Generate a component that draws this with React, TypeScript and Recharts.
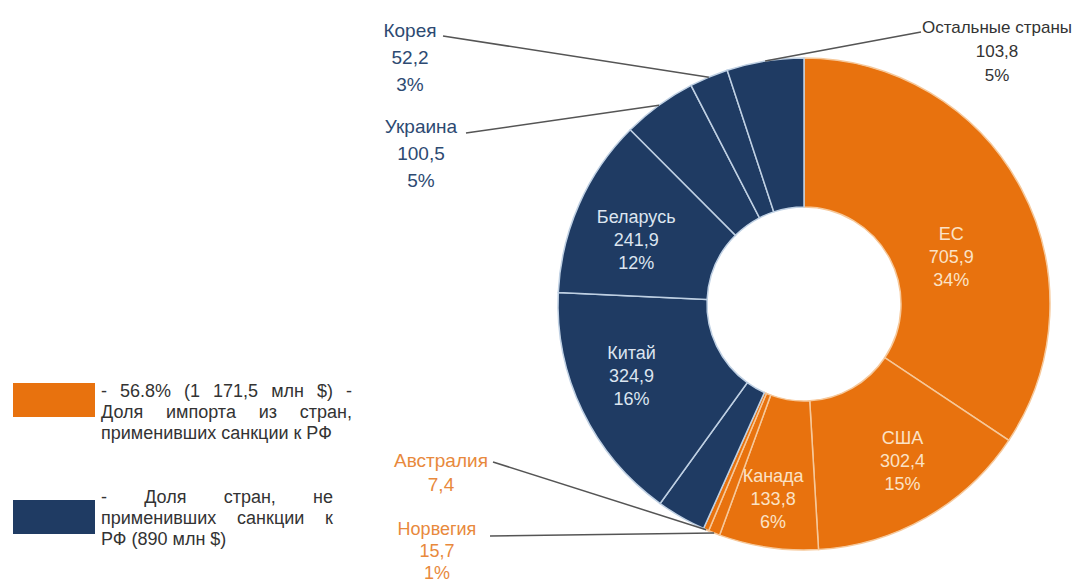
import React from 'react';
import { PieChart, Pie, Cell } from 'recharts';

// ---- data ----
const countries = ['ЕС', 'США', 'Канада', 'Норвегия', 'Австралия', 'Прочие', 'Китай', 'Беларусь', 'Украина', 'Корея', 'Остальные страны'];
const importValues = [705.9, 302.4, 133.8, 15.7, 7.4, 66.7, 324.9, 241.9, 100.5, 52.2, 103.8];
const valueTexts = ['705,9', '302,4', '133,8', '15,7', '7,4', '', '324,9', '241,9', '100,5', '52,2', '103,8'];
const shareTexts = ['34%', '15%', '6%', '1%', '', '', '16%', '12%', '5%', '3%', '5%'];
const sanctioned = [true, true, true, true, true, false, false, false, false, false, false];
const legendLines1 = ['- 56.8% (1 171,5 млн $) -', 'Доля импорта из стран,', 'применивших санкции к РФ'];
const legendLines2 = ['- Доля стран, не', 'применивших санкции к', 'РФ (890 млн $)'];

const ORANGE = '#E8720E';
const NAVY = '#1F3B63';
const FONT = '"Liberation Sans", Arial, sans-serif';

const data = countries.map((name, i) => ({
  name,
  value: importValues[i],
  valueText: valueTexts[i],
  share: shareTexts[i],
  sanctioned: sanctioned[i],
}));

// label layout (style only)
type Inside = { kind: 'in'; dx: number; dy: number };
type Outside = { kind: 'out'; tx: number; ty: number; lx: number; ly: number; color: string; step: number; size: number };
const layout: Record<string, Inside | Outside | undefined> = {
  'ЕС': { kind: 'in', dx: -4, dy: 34 },
  'США': { kind: 'in', dx: 13, dy: 8 },
  'Канада': { kind: 'in', dx: -6, dy: 25 },
  'Китай': { kind: 'in', dx: -18, dy: -3 },
  'Беларусь': { kind: 'in', dx: -11, dy: 5 },
  'Корея': { kind: 'out', tx: 410, ty: 30, lx: 443, ly: 36, color: '#2D4A72', step: 27, size: 19 },
  'Украина': { kind: 'out', tx: 421, ty: 126, lx: 466, ly: 133, color: '#2D4A72', step: 27, size: 19 },
  'Остальные страны': { kind: 'out', tx: 997, ty: 27, lx: 921, ly: 32, color: '#333333', step: 24, size: 17 },
  'Австралия': { kind: 'out', tx: 441, ty: 460, lx: 493, ly: 462, color: '#E8893C', step: 24, size: 19 },
  'Норвегия': { kind: 'out', tx: 437, ty: 529, lx: 490, ly: 536, color: '#E8893C', step: 22, size: 18 },
};

const RAD = Math.PI / 180;

const renderLabel = (props: any) => {
  const { cx, cy, midAngle, innerRadius, outerRadius, index } = props;
  const d = data[index];
  const cfg = layout[d.name];
  if (!cfg) return null;
  const lines = [d.name, d.valueText, d.share].filter((s) => s !== '');
  if (cfg.kind === 'in') {
    const r = (innerRadius + outerRadius) / 2;
    const x = cx + r * Math.cos(-midAngle * RAD) + cfg.dx;
    const y = cy + r * Math.sin(-midAngle * RAD) + cfg.dy;
    const fill = d.sanctioned ? '#FBE2C6' : '#DCE5F0';
    const step = 23;
    return (
      <g key={`l-${index}`}>
        {lines.map((t, k) => (
          <text key={k} x={x} y={y + (k - 1) * step} textAnchor="middle" dominantBaseline="central"
            fill={fill} fontSize={18} fontFamily={FONT}>{t}</text>
        ))}
      </g>
    );
  }
  const ex = cx + outerRadius * Math.cos(-midAngle * RAD);
  const ey = cy + outerRadius * Math.sin(-midAngle * RAD);
  return (
    <g key={`l-${index}`}>
      <polyline points={`${cfg.lx},${cfg.ly} ${ex},${ey}`} stroke="#555" strokeWidth={1.5} fill="none" />
      {lines.map((t, k) => (
        <text key={k} x={cfg.tx} y={cfg.ty + k * cfg.step} textAnchor="middle" dominantBaseline="central"
          fill={cfg.color} fontSize={cfg.size} fontFamily={FONT}>{t}</text>
      ))}
    </g>
  );
};

const legends = [
  { lines: legendLines1, color: ORANGE, boxTop: 383, textTop: 381, width: 251 },
  { lines: legendLines2, color: NAVY, boxTop: 500, textTop: 487, width: 232 },
];

export default function App() {
  return (
    <div style={{ position: 'absolute', left: 0, top: 0, width: 1078, height: 583, background: '#fff', overflow: 'hidden' }}>
      <PieChart width={1078} height={583}>
        <Pie
          data={data}
          dataKey="value"
          nameKey="name"
          cx={799}
          cy={299}
          innerRadius={97}
          outerRadius={246}
          startAngle={90}
          endAngle={-270}
          label={renderLabel}
          labelLine={false}
          isAnimationActive={false}
        >
          {data.map((d, i) => (
            <Cell key={i} fill={d.sanctioned ? ORANGE : NAVY} stroke={d.sanctioned ? '#F6C89A' : '#BFD0E3'} strokeWidth={1.5} />
          ))}
        </Pie>
      </PieChart>
      {legends.map((lg, i) => (
        <React.Fragment key={i}>
          <div style={{ position: 'absolute', left: 13, top: lg.boxTop, width: 82, height: 34, background: lg.color }} />
          <div style={{ position: 'absolute', left: 101, top: lg.textTop, width: lg.width }}>
            {lg.lines.map((t, k) => (
              <div key={k} style={{
                fontFamily: FONT, fontSize: 18, lineHeight: '21px', color: '#333',
                textAlign: 'justify', textAlignLast: k < lg.lines.length - 1 ? 'justify' : 'left',
                whiteSpace: 'nowrap',
              }}>{t}</div>
            ))}
          </div>
        </React.Fragment>
      ))}
    </div>
  );
}
